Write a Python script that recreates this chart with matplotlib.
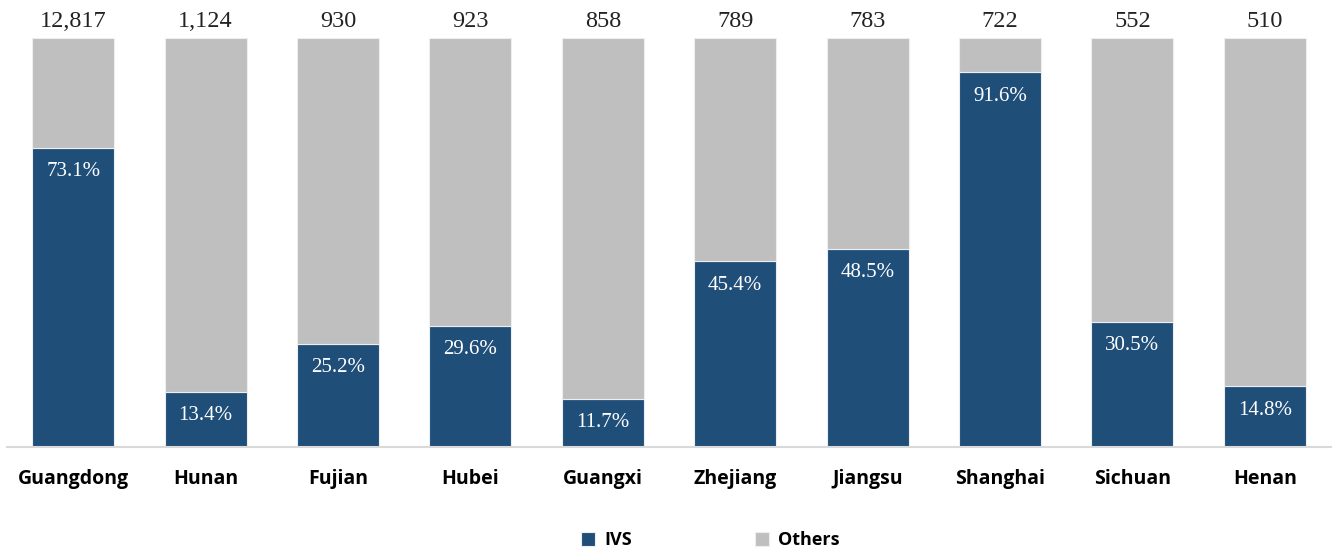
import matplotlib.pyplot as plt
import numpy as np

provinces = ['Guangdong', 'Hunan', 'Fujian', 'Hubei', 'Guangxi',
             'Zhejiang', 'Jiangsu', 'Shanghai', 'Sichuan', 'Henan']
totals = [12817, 1124, 930, 923, 858, 789, 783, 722, 552, 510]
ivs_pct = [73.1, 13.4, 25.2, 29.6, 11.7, 45.4, 48.5, 91.6, 30.5, 14.8]

navy = '#1F4E79'
grey = '#BFBFBF'

ivs = np.array(ivs_pct) / 100
others = 1 - ivs
x = np.arange(len(provinces))

fig = plt.figure(figsize=(13.36, 5.49), dpi=100)
ax = fig.add_axes([7/1336, 1-447/549, 1324/1336, 409/549])

ax.bar(x, ivs, width=0.62, color=navy, edgecolor='#E8EEF4', linewidth=0.8, label='IVS')
ax.bar(x, others, width=0.62, bottom=ivs, color=grey, edgecolor='#EEEEEE', linewidth=0.8, label='Others')

# totals on top, percentages inside
for i in range(len(x)):
    ax.text(x[i], 1.015, '{:,}'.format(totals[i]), ha='center', va='bottom',
            fontsize=17.5, family='Liberation Serif', color='#222222', clip_on=False)
    ax.text(x[i], ivs[i] - 0.058, '%.1f%%' % ivs_pct[i], ha='center', va='center',
            fontsize=15, family='Liberation Serif', color='white')

ax.set_xlim(-0.5, 9.5)
ax.set_ylim(0, 1)
ax.set_xticks(x)
ax.set_xticklabels(provinces, fontsize=14, fontweight='bold', family='Open Sans')
ax.tick_params(axis='x', length=0, pad=16)
ax.set_yticks([])
for s in ['top', 'right', 'left']:
    ax.spines[s].set_visible(False)
ax.spines['bottom'].set_color('#D9D9D9')
ax.spines['bottom'].set_linewidth(1.5)

fig.legend(loc='center', bbox_to_anchor=(710/1336, 1-540/549), ncol=2, frameon=False,
           prop={'family': 'Open Sans', 'weight': 'bold', 'size': 13},
           handlelength=0.8, handleheight=0.8, columnspacing=6.8, handletextpad=0.5)

fig.savefig('out.png', dpi=100)
